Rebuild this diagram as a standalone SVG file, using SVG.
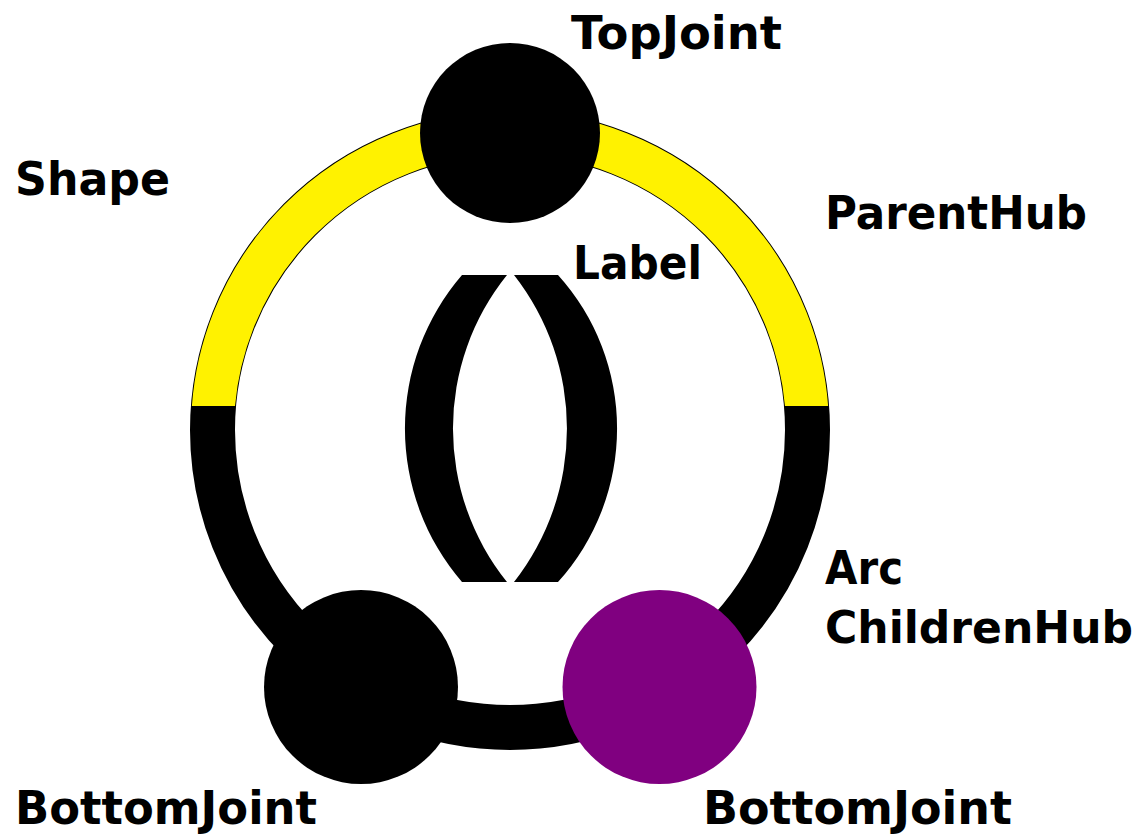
<svg xmlns="http://www.w3.org/2000/svg" width="1143" height="834" viewBox="0 0 1143 834">
<style>
.lbl{font-family:"DejaVu Sans","Liberation Sans",sans-serif;font-weight:bold;font-size:46px;fill:#000}
</style>
<defs>
<clipPath id="topHalf"><rect x="0" y="0" width="1143" height="406"/></clipPath>
</defs>
<rect width="1143" height="834" fill="#fff"/>
<g id="connectors">
<circle cx="510" cy="430" r="297.5" fill="none" stroke="#000" stroke-width="45"/>
</g>
<g id="Shape">
<circle cx="510" cy="430" r="297.5" fill="none" stroke="#fff200" stroke-width="43" clip-path="url(#topHalf)"/>
<text class="lbl" x="15" y="195" textLength="155" lengthAdjust="spacingAndGlyphs">Shape</text>
</g>
<g id="ParentHub">
<text class="lbl" x="825" y="229" textLength="262" lengthAdjust="spacingAndGlyphs">ParentHub</text>
</g>
<g id="Label">
<path d="M 462 275 L 507 275 A 245 245 0 0 0 507 582 L 462 582 A 235 235 0 0 1 462 275 Z" fill="#000"/>
<path d="M 514 275 L 558 275 A 229 229 0 0 1 558 582 L 514 582 A 249 249 0 0 0 514 275 Z" fill="#000"/>
<text class="lbl" x="573" y="279" textLength="129" lengthAdjust="spacingAndGlyphs">Label</text>
</g>
<g id="TopJoint">
<circle cx="510" cy="133" r="90" fill="#000"/>
<text class="lbl" x="571" y="49" textLength="211" lengthAdjust="spacingAndGlyphs">TopJoint</text>
</g>
<g id="BottomJointLeft">
<circle cx="361" cy="687" r="97" fill="#000"/>
<text class="lbl" x="15" y="824" textLength="302" lengthAdjust="spacingAndGlyphs">BottomJoint</text>
</g>
<g id="BottomJointRight">
<circle cx="659.5" cy="687" r="97" fill="#800080"/>
<text class="lbl" x="703" y="824" textLength="309" lengthAdjust="spacingAndGlyphs">BottomJoint</text>
</g>
<g id="ArcChildrenHub">
<text class="lbl" x="825" y="584" textLength="78" lengthAdjust="spacingAndGlyphs">Arc</text>
<text class="lbl" x="825" y="643" style="font-size:44px" textLength="308" lengthAdjust="spacingAndGlyphs">ChildrenHub</text>
</g>
</svg>
